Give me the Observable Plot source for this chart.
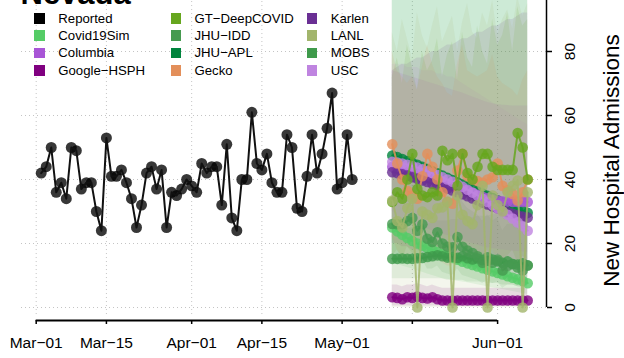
<!DOCTYPE html>
<html>
<head>
<meta charset="utf-8">
<script src="https://cdn.jsdelivr.net/npm/d3@7"></script>
<script src="https://cdn.jsdelivr.net/npm/@observablehq/plot@0.6"></script>
<style>
  body { margin: 0; background: #fff; }
  #wrap { position: relative; width: 624px; height: 358px; overflow: hidden; font-family: "Liberation Sans", Arial, sans-serif; }
  #wrap svg { position: absolute; left: 0; top: 0; }
  .lg { position: absolute; display: flex; align-items: center; font-size: 13.2px; color: #000; white-space: nowrap; height: 17px; }
  .lg span.sw { display: inline-block; width: 10.7px; height: 10.7px; margin-right: 13.3px; }
</style>
</head>
<body>
<div id="wrap"></div>
<script>
// ---------------- data ----------------
const reportedStart = "2022-03-02";
const reported = [42,44,50,36,39,34,50,49,37,39,39,30,24,53,41,41,43,39,34,25,32,42,44,37,43,25,36,35,37,40,38,36,45,42,44,44,32,51,28,24,40,40,61,45,43,48,39,36,36,54,50,31,30,41,54,42,48,56,67,37,39,54,40];

const forecastStart = "2022-05-11";

const legendNames = ["Reported","Covid19Sim","Columbia","Google\u2212HSPH","GT\u2212DeepCOVID","JHU\u2212IDD","JHU\u2212APL","Gecko","Karlen","LANL","MOBS","USC"];
const legendColors = ["#000000","#55cc66","#a855d6","#800080","#66a61e","#469a50","#00843d","#e38f5a","#6a2f94","#a2b56c","#3f9a4b","#bf84e0"];

const covid19Sim = [25.0,23.8,22.7,21.7,20.8,20.0,19.3,18.6,18.0,17.3,16.7,16.1,15.5,14.9,14.3,13.8,13.3,12.8,12.3,11.8,11.3,10.8,10.3,9.8,9.3,8.8,8.3,7.6];
const columbia   = [44,43.5,43,42.5,42,41.5,41,40.5,40,39.5,39,38.5,38,37.5,37,36.4,35.8,35.2,34.6,34.1,33.7,33.4,33.2,33.1,33,33,33,33];
const googleHSPH = [3.2,3.0,2.6,3.2,3.0,3.4,3.0,2.8,3.2,2.6,2.2,2.2,2.2,2.2,2.2,2.2,2.2,2.2,2.2,2.2,2.2,2.2,2.2,2.2,2.2,2.2,2.2,2.2];
const gtDeepCovid = [33,36,34,40,48,37,35,34.5,36,35,49,46,48,38,48,42,40,44,48,48,44,43,43,43,43,54.5,50,40];
const jhuIDD     = [26.1,26,26,27,28,24,26,21.5,20.5,23.5,20,19,18.8,22,19,17.8,17,16,14,15.7,14,15,11.6,13,13.6,12.5,11.6,13.1];
const jhuAPL     = [47.5,47,46.4,45.8,45.2,44.6,44,43.3,42.6,41.9,41.2,40.5,39.8,39.1,38.4,37.7,37,36.3,35.6,34.9,34.2,33.5,32.8,32.1,31.4,30.8,30.2,29.6];
const gecko      = [51,45,40,36.5,35,34,41,48,44,40,36,33,32.4,42.8,48,41,40,39.5,39,40,40.7,45,38,36.6,35.5,33.4,36,40];
const karlen     = [42.3,42,41.6,41.2,40.7,40.2,39.7,39.2,38.7,38.2,37.7,37.2,36.6,36,35.4,34.8,34.1,33.5,32.8,32.2,31.6,31,30.4,29.8,29.3,28.8,28.4,28.1];
const lanl       = [33.4,27,25,31,34,0,30,29,28,31,31.3,33,0,35,29,27,26,32,38,0,35,32,30,36,38,39.7,0,36];
const mobs       = [15.2,15.2,15.3,15.2,15.2,15.4,15.5,15.8,16.0,16.3,16.0,15.6,15.8,15.5,16.0,15.4,15.0,15.3,14.8,14.6,15.0,14.4,14.0,14.4,13.6,13.4,13.8,13.2];
const usc        = [45.5,45.3,45,44.6,44.2,43.7,43.2,42.6,42,41.4,40.7,40,39.3,38.5,37.7,36.8,35.9,35,34,33,32,31,30,29,27.8,26.6,25.4,24];

// prediction interval bounds (lower / upper)
const covid19SimLo = [14,13.5,13,12.5,12,11.5,11,10.5,10,9.5,9,8.8,8.5,8.2,8,7.7,7.4,7.1,6.8,6.5,6.2,5.9,5.6,5.3,5,4.7,4.4,4.1];
const covid19SimHi = [150,150,150,150,150,150,150,150,150,150,150,150,150,150,150,150,150,150,150,150,150,150,150,150,150,150,150,150];
const columbiaLo = [28,27.5,27,26.5,26,25.5,25,24.5,24,23.5,23,22.5,22,21.5,21,20.5,20,19.5,19,18.7,18.4,18.2,18,17.8,17.6,17.5,17.4,17.3];
const columbiaHi = [74,73.5,73,72.5,72,71.5,71,70.5,70,69.5,69,68.5,68,67.5,67,66.4,65.8,65.2,64.6,64.1,63.7,63.4,63.2,63.1,63,63,63,63];
const googleHSPHLo = [0.5,0.5,0.5,0.5,0.5,0.5,0.5,0.5,0.5,0.5,0.5,0.5,0.5,0.5,0.5,0.5,0.5,0.5,0.5,0.5,0.5,0.5,0.5,0.5,0.5,0.5,0.5,0.5];
const googleHSPHHi = [7,7,6.5,7,7,7.5,7,6.5,7,6.5,6,6,6,6,6,6,6,6,6,6,6,6,6,6,6,6,6,6];
const gtDeepCovidLo = [16,18,15,19,17,14,18,16,15,19,17,15,18,16,14,17,19,15,16,18,14,17,15,16,18,14,16,15];
const gtDeepCovidHi = [72,78,70,82,75,68,80,74,77,84,72,79,83,71,86,78,75,88,80,76,90,82,85,92,80,94,88,90];
const jhuIDDLo = [15,15,15,15.5,16,14,15,12,12,13,11,10.5,10,12,10,9.5,9,8.5,7.5,8.5,7.5,8,6,7,7,6.5,6,7];
const jhuIDDHi = [42,42,42,43,44,40,42,36,35,39,34,33,33,37,33,31,30,29,27,29,27,28,24,26,26,25,24,26];
const jhuAPLLo = [16,16,16,16,16,15,15,15,15,15,15,15,14,14,14,14,14,14,14,13,13,13,13,13,13,13,13,13];
const jhuAPLHi = [150,150,150,150,150,150,150,150,150,150,150,150,150,150,150,150,150,150,150,150,150,150,150,150,150,150,150,150];
const geckoLo = [22,18,16,15,17,14,18,20,17,15,14,13,13,16,19,16,15,15,16,16,18,15,14,14,13,13,14,15];
const geckoHi = [80,74,72,70,72,68,75,82,76,72,70,67,66,76,82,74,73,72,73,74,79,72,70,69,68,66,71,74];
const karlenLo = [20,20,19,19,18,18,17,17,17,16,16,16,15,15,15,14,14,14,13,13,13,13,12,12,12,12,11,11];
const karlenHi = [74,75,76,76,77,78,78,79,80,80,81,82,82,83,84,84,85,86,86,87,88,88,89,90,90,91,92,92];
const lanlLo = [0,0,0,0,0,0,0,0,0,0,0,0,0,0,0,0,0,0,0,0,0,0,0,0,0,0,0,0];
const lanlHi = [86,80,90,84,78,92,85,81,88,94,83,87,91,80,89,95,86,84,92,88,96,85,90,93,87,97,91,95];
const mobsLo = [9,9,9,9,9,9,9,9,9,9,9,8.5,8.5,8.5,8.5,8,8,8,8,7.5,7.5,7.5,7,7,7,6.5,6.5,6.5];
const mobsHi = [24,24,24.5,24.5,25,25,25.5,26,26.5,27,27,27,27.5,27.5,28,28,28,28.5,28.5,28.5,29,29,29,29,29,29,29,29];
const uscLo = [30,29,28,27,26,25,24,23,22,21,20,19,18,17,16,15,14,13,12,11,10,10,9,9,8,8,7,7];
const uscHi = [76,76,76,75,75,75,74,74,74,73,73,72,72,71,70,69,68,67,66,65,64,63,62,61,60,59,58,57];

const xTickLabels = ["Mar\u221201","Mar\u221215","Apr\u221201","Apr\u221215","May\u221201","","Jun\u221201"];
const xTickDates = ["2022-03-01","2022-03-15","2022-04-01","2022-04-15","2022-05-01","2022-05-15","2022-06-01"];
const yTicks = [0,20,40,60,80,100];

// ---------------- helpers ----------------
const DAY = 86400000;
const parse = s => new Date(s + "T00:00:00Z");
const dayAfter = (s, i) => new Date(parse(s).getTime() + i * DAY);
const series = arr => arr.map((v, i) => ({date: dayAfter(forecastStart, i), value: v}));
const band = (lo, hi) => lo.map((v, i) => ({date: dayAfter(forecastStart, i), lo: v, hi: hi[i]}));

const reportedRows = reported.map((v, i) => ({date: dayAfter(reportedStart, i), value: v}));
const ticks = xTickDates.map(parse);

const models = [
  {name: "Covid19Sim", v: covid19Sim, lo: covid19SimLo, hi: covid19SimHi, color: legendColors[1]},
  {name: "MOBS", v: mobs, lo: mobsLo, hi: mobsHi, color: legendColors[10]},
  {name: "JHU-IDD", v: jhuIDD, lo: jhuIDDLo, hi: jhuIDDHi, color: legendColors[5]},
  {name: "Google-HSPH", v: googleHSPH, lo: googleHSPHLo, hi: googleHSPHHi, color: legendColors[3]},
  {name: "JHU-APL", v: jhuAPL, lo: jhuAPLLo, hi: jhuAPLHi, color: legendColors[6]},
  {name: "Columbia", v: columbia, lo: columbiaLo, hi: columbiaHi, color: legendColors[2]},
  {name: "Karlen", v: karlen, lo: karlenLo, hi: karlenHi, color: legendColors[8]},
  {name: "USC", v: usc, lo: uscLo, hi: uscHi, color: legendColors[11]},
  {name: "Gecko", v: gecko, lo: geckoLo, hi: geckoHi, color: legendColors[7]},
  {name: "GT-DeepCOVID", v: gtDeepCovid, lo: gtDeepCovidLo, hi: gtDeepCovidHi, color: legendColors[4]},
  {name: "LANL", v: lanl, lo: lanlLo, hi: lanlHi, color: legendColors[9]}
];

// ---------------- layout ----------------
const mar1 = parse("2022-03-01").getTime();
const xDomain = [new Date(mar1 - 2.93 * DAY), new Date(mar1 + 101.75 * DAY)];
const yDomain = [-4.0625, 95.9375];
const gridFloor = -2.2;

const ribbonMarks = models.map(m => Plot.areaY(band(m.lo, m.hi), {
  x: "date", y1: "lo", y2: "hi", fill: m.color, fillOpacity: 0.12, clip: true, curve: "linear"
}));
const seriesMarks = models.flatMap(m => [
  Plot.line(series(m.v), {x: "date", y: "value", stroke: m.color, strokeWidth: 2, strokeOpacity: 0.85}),
  Plot.dot(series(m.v), {x: "date", y: "value", r: 5.3, fill: m.color, fillOpacity: 0.8})
]);

const chart = Plot.plot({
  width: 624, height: 358,
  marginLeft: 21, marginRight: 78, marginTop: 0, marginBottom: 38,
  x: {type: "utc", domain: xDomain},
  y: {domain: yDomain},
  style: {fontFamily: "'Liberation Sans', Arial, sans-serif", background: "white", color: "black"},
  marks: [
    Plot.ruleY(yTicks.filter(d => d <= yDomain[1]), {stroke: "#c4c4c4", strokeDasharray: "1,3"}),
    Plot.ruleX(ticks, {y1: gridFloor, y2: yDomain[1], stroke: "#c4c4c4", strokeDasharray: "1,3"}),
    ...ribbonMarks,
    Plot.dot(reportedRows, {x: "date", y: "value", r: 5.5, fill: "#000", fillOpacity: 0.78}),
    Plot.line(reportedRows, {x: "date", y: "value", stroke: "#111", strokeWidth: 2}),
    ...seriesMarks,
    // x axis
    Plot.ruleY([yDomain[0]], {x1: ticks[0], x2: ticks[ticks.length - 1], stroke: "black", strokeWidth: 1.8}),
    Plot.axisX(ticks, {anchor: "bottom", tickSize: 4, tickFormat: () => "", label: null, strokeWidth: 1.5}),
    Plot.text(ticks, {x: d => d, text: (d, i) => xTickLabels[i], frameAnchor: "bottom", dy: 23, fontSize: 15.5, lineAnchor: "middle", textAnchor: "middle", fill: "black"}),
    // y axis
    Plot.ruleX([xDomain[1]], {y1: 0, y2: 100, stroke: "black", strokeWidth: 1.5}),
    Plot.axisY(yTicks, {anchor: "right", tickSize: 5, tickFormat: () => "", label: null, strokeWidth: 1.5}),
    Plot.text(yTicks.filter(d => d <= 80), {y: d => d, text: d => String(d), frameAnchor: "right", dx: 24, rotate: -90, fontSize: 15.5, textAnchor: "middle", lineAnchor: "middle", fill: "black"}),
    Plot.text(["New Hospital Admissions"], {frameAnchor: "right", dx: 65.5, rotate: -90, fontSize: 22.5, textAnchor: "middle", lineAnchor: "middle", fill: "black"}),
    // title (partly above the visible area, as in the reference)
    Plot.text(["Nevada"], {frameAnchor: "top-left", dx: -1, dy: 3.5, lineAnchor: "bottom", textAnchor: "start", fontSize: 31, fontWeight: "bold", fill: "black"})
  ]
});

const wrap = document.getElementById("wrap");
wrap.appendChild(chart);

// legend (3 columns x 4 rows, column-major)
legendNames.forEach((name, i) => {
  const col = Math.floor(i / 4), row = i % 4;
  const el = document.createElement("div");
  el.className = "lg";
  el.style.left = (34.3 + 136.2 * col) + "px";
  el.style.top = (18.3 + 17.3 * row - 8.5) + "px";
  const sw = document.createElement("span");
  sw.className = "sw";
  sw.style.background = legendColors[i];
  el.appendChild(sw);
  el.appendChild(document.createTextNode(name));
  wrap.appendChild(el);
});
</script>
</body>
</html>
